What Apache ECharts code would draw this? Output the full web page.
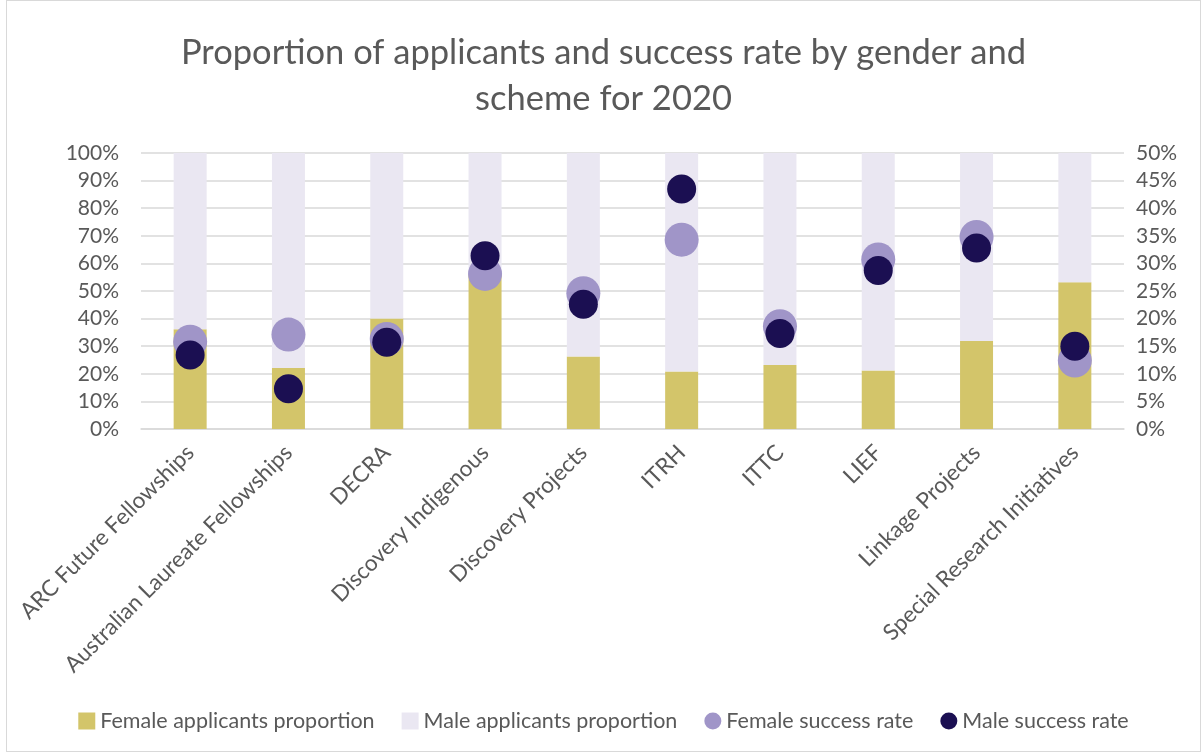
<!DOCTYPE html>
<html>
<head>
<meta charset="utf-8">
<script src="https://cdn.jsdelivr.net/npm/echarts@6/dist/echarts.min.js"></script>
<style>
  html, body { margin: 0; padding: 0; background: #fff; }
  #chart { position: absolute; left: 6px; top: 0; width: 1193px; height: 750px; border: 1px solid #D9D9D9; }
</style>
</head>
<body>
<div id="chart"></div>
<script>
// 类别与数值
const schemes = ['ARC Future Fellowships', 'Australian Laureate Fellowships', 'DECRA', 'Discovery Indigenous',
  'Discovery Projects', 'ITRH', 'ITTC', 'LIEF', 'Linkage Projects', 'Special Research Initiatives']
const femaleProportion = [36.1, 22.1, 40.0, 56.0, 26.3, 20.8, 23.2, 21.2, 31.9, 53.2]
const maleProportion = [63.9, 77.9, 60.0, 44.0, 73.7, 79.2, 76.8, 78.8, 68.1, 46.8]
const femaleSuccess = [15.8, 17.1, 16.3, 28.1, 24.6, 34.3, 18.6, 30.7, 34.8, 12.4]
const maleSuccess = [13.4, 7.3, 15.7, 31.4, 22.6, 43.5, 17.3, 28.7, 32.8, 15.0]

const textColor = '#595959'
const font = 'Lato, Carlito, Calibri, sans-serif'

const chart = echarts.init(document.getElementById('chart'))
const option = {
  textStyle: { fontFamily: font },
  title: {
    text: 'Proportion of applicants and success rate by gender and\nscheme for 2020',
    left: 'center',
    top: 24,
    textStyle: { fontSize: 34.5, fontWeight: 'normal', color: textColor, lineHeight: 46, fontFamily: font }
  },
  legend: {
    bottom: 14,
    left: 'center',
    itemGap: 27,
    itemWidth: 17,
    itemHeight: 17,
    textStyle: { fontSize: 21.5, color: textColor, fontFamily: font },
    data: [
      { name: 'Female applicants proportion', icon: 'rect' },
      { name: 'Male applicants proportion', icon: 'rect' },
      { name: 'Female success rate', icon: 'circle' },
      { name: 'Male success rate', icon: 'circle' }
    ]
  },
  grid: { left: 134, right: 76, top: 152, bottom: 322 },
  xAxis: {
    type: 'category',
    data: schemes,
    axisLine: { lineStyle: { color: '#D9D9D9', width: 1.5 } },
    axisTick: { show: false },
    axisLabel: { rotate: 45, fontSize: 22.5, color: textColor, interval: 0, margin: 20 }
  },
  yAxis: [
    {
      type: 'value', min: 0, max: 100, interval: 10,
      axisLabel: { formatter: '{value}%', fontSize: 21, color: textColor, margin: 22 },
      splitLine: { lineStyle: { color: '#D9D9D9', width: 1.5 } }
    },
    {
      type: 'value', min: 0, max: 50, interval: 5,
      axisLabel: { formatter: '{value}%', fontSize: 21, color: textColor, margin: 12 },
      splitLine: { show: false }
    }
  ],
  series: [
    {
      name: 'Female applicants proportion',
      type: 'bar',
      stack: 'apps',
      barWidth: 33,
      data: femaleProportion,
      itemStyle: { color: '#D3C56A' }
    },
    {
      name: 'Male applicants proportion',
      type: 'bar',
      stack: 'apps',
      barWidth: 33,
      data: maleProportion,
      itemStyle: { color: '#EAE7F2' }
    },
    {
      name: 'Female success rate',
      type: 'scatter',
      yAxisIndex: 1,
      symbolSize: 34,
      data: femaleSuccess,
      itemStyle: { color: '#A095C8', opacity: 1 }
    },
    {
      name: 'Male success rate',
      type: 'scatter',
      yAxisIndex: 1,
      symbolSize: 29,
      data: maleSuccess,
      itemStyle: { color: '#1B0F52', opacity: 1 }
    }
  ]
}
chart.setOption(option)
</script>
</body>
</html>
